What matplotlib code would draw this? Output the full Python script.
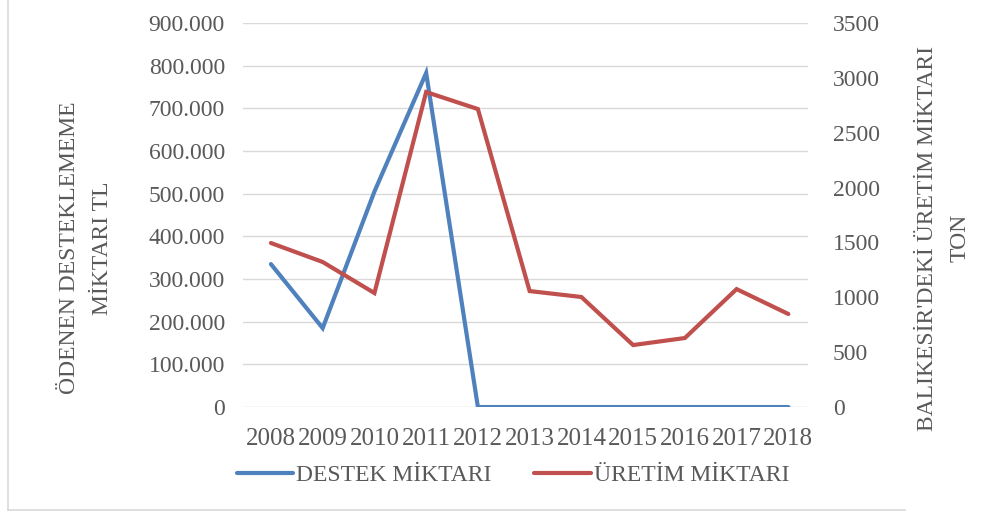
import matplotlib.pyplot as plt
from matplotlib.lines import Line2D

years = ["2008", "2009", "2010", "2011", "2012", "2013", "2014", "2015", "2016", "2017", "2018"]
destek = [335000, 185000, 505000, 783000, 0, 0, 0, 0, 0, 0, 0]
uretim = [1495, 1322, 1039, 2871, 2716, 1057, 1003, 565, 629, 1075, 848]

left_ticks = [0, 100000, 200000, 300000, 400000, 500000, 600000, 700000, 800000, 900000]
right_ticks = [0, 500, 1000, 1500, 2000, 2500, 3000, 3500]

plt.rcParams["font.family"] = ["Liberation Serif", "DejaVu Serif"]
grey = "#595959"

fig = plt.figure(figsize=(10, 5.12), dpi=100)
ax = fig.add_axes([0.243, 0.205, 0.565, 0.75])
ax2 = ax.twinx()

x = list(range(len(years)))
l1, = ax.plot(x, destek, color="#4f81bd", lw=3, solid_capstyle="round",
              solid_joinstyle="miter", label="DESTEK MİKTARI", zorder=3)
l2, = ax2.plot(x, uretim, color="#c0504d", lw=3, solid_capstyle="round",
               solid_joinstyle="miter", label="ÜRETİM MİKTARI", zorder=3)

ax.set_xlim(-0.54, 10.38)
ax.set_ylim(0, 900000)
ax2.set_ylim(0, 3500)
ax.set_yticks(left_ticks)
ax.set_yticklabels(["0" if v == 0 else f"{v:,}".replace(",", ".") for v in left_ticks])
ax2.set_yticks(right_ticks)
ax.set_xticks(x)
ax.set_xticklabels(years)
ax.grid(axis="y", color="#d9d9d9", lw=1)
ax.set_axisbelow(True)

for a in (ax, ax2):
    for s in a.spines.values():
        s.set_visible(False)
    a.tick_params(length=0, labelsize=17, labelcolor=grey)
ax.tick_params(axis="y", pad=13)
ax2.tick_params(axis="y", pad=18)
ax.tick_params(axis="x", pad=15, labelsize=18)

# axis titles
fig.text(0.086, 0.516, "ÖDENEN DESTEKLEMEME\nMİKTARI TL", rotation=90, fontsize=17,
         color=grey, ha="center", va="center", multialignment="center", linespacing=1.75)
fig.text(0.944, 0.535, "BALIKESİR'DEKİ ÜRETİM MİKTARI\nTON", rotation=90, fontsize=17,
         color=grey, ha="center", va="center", multialignment="center", linespacing=1.7)

fig.legend(handles=[l1, l2], loc="center", bbox_to_anchor=(0.513, 0.072), ncol=2,
           frameon=False, fontsize=17, labelcolor=grey, handlelength=2.4,
           handletextpad=0.13, columnspacing=1.8)

# chart frame (left and bottom visible)
fig.add_artist(Line2D([0.008, 0.008], [0.004, 1.0], transform=fig.transFigure,
                      color="#d9d9d9", lw=1.2))
fig.add_artist(Line2D([0.008, 0.905], [0.004, 0.004], transform=fig.transFigure,
                      color="#d9d9d9", lw=1.2))

fig.savefig("out.png", dpi=100)
